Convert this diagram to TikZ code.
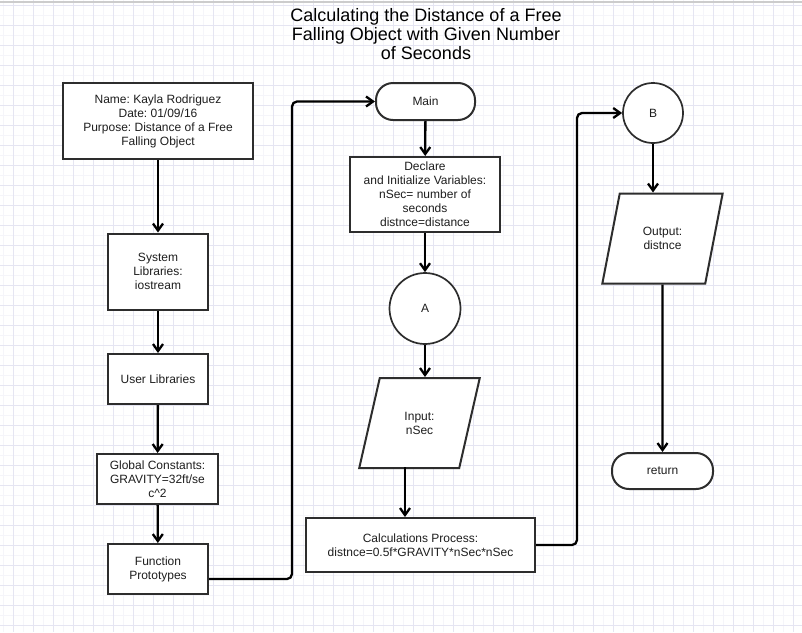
\documentclass[tikz,border=0pt]{standalone}
\usepackage{fontspec}
\setmainfont{Liberation Sans}
\frenchspacing
\usetikzlibrary{arrows.meta, shapes.geometric}
\definecolor{gridmajor}{RGB}{229,229,242}
\definecolor{gridminor}{RGB}{245,245,250}
\definecolor{edge}{RGB}{45,45,45}
\definecolor{label}{RGB}{30,30,30}

\tikzset{
	box/.style={draw=edge, line width=2pt, fill=white, align=center, text=label,
		font=\fontsize{12}{14}\selectfont, inner sep=2pt},
	term/.style={box, rounded corners=17pt},
	link/.style={box, circle, line width=1.7pt},
	io/.style={box, trapezium, trapezium left angle=71.57, trapezium right angle=108.43,
		trapezium stretches, minimum width=121pt, minimum height=90pt},
	flow/.style={line width=2.3pt, black, rounded corners=5pt,
		-{Straight Barb[length=7pt,width=10pt]}},
}

\begin{document}
\begin{tikzpicture}[x=1pt, y=-1pt]
		
		% Page and grid
		\useasboundingbox (0,0) rectangle (802,632);
		\fill[white] (0,0) rectangle (802,632);
		\foreach \x in {3.3,13.3,...,802} {
			\draw[gridminor, line width=0.6pt] (\x,0) -- (\x,632);
		}
		\foreach \y in {15,25,...,632} {
			\draw[gridminor, line width=0.6pt] (0,\y) -- (802,\y);
		}
		\foreach \x in {13.3,33.3,...,802} {
			\draw[gridmajor, line width=0.8pt] (\x,0) -- (\x,632);
		}
		\foreach \y in {5,25,...,632} {
			\draw[gridmajor, line width=0.8pt] (0,\y) -- (802,\y);
		}
		\draw[gray!40, line width=2pt] (0,1.5) -- (802,1.5);
		
		% Title
		\node[align=center, font=\fontsize{18}{19}\selectfont] (title) at (426,34)
			{Calculating the Distance of a Free\\Falling Object with Given Number\\of Seconds};
		
		% Left column
		\node[box, minimum width=190pt, minimum height=76pt] (info) at (158,121)
			{Name: Kayla Rodriguez\\Date: 01/09/16\\Purpose: Distance of a Free\\Falling Object};
		\node[box, minimum width=100pt, minimum height=76pt] (syslib) at (158,271.5)
			{System\\Libraries:\\iostream};
		\node[box, minimum width=100pt, minimum height=50pt] (usrlib) at (158,379) {User Libraries};
		\node[box, minimum width=121pt, minimum height=50pt] (consts) at (157.5,479)
			{Global Constants:\\GRAVITY=32ft/se\\c\textasciicircum 2};
		\node[box, minimum width=100pt, minimum height=50pt] (proto) at (158,569)
			{Function\\Prototypes};
		
		% Middle column
		\node[term, minimum width=99pt, minimum height=37pt] (main) at (425.5,101.5) {Main};
		\node[box, minimum width=150pt, minimum height=75pt] (decl) at (425,194.5)
			{Declare\\and Initialize Variables:\\nSec= number of\\seconds\\distnce=distance};
		\node[link, minimum size=71pt] (A) at (425,308.5) {A};
		\node[io] (input) at (419.5,423) {Input:\\nSec};
		\node[box, minimum width=229pt, minimum height=54pt] (calc) at (420.5,545)
			{Calculations Process:\\distnce=0.5f*GRAVITY*nSec*nSec};
		
		% Right column
		\node[link, minimum size=60pt] (B) at (653,113) {B};
		\node[io] (output) at (662.5,238.5) {Output:\\distnce};
		\node[term, minimum width=101pt, minimum height=36pt] (ret) at (662.5,471) {return};
		
		% Bend points of the long connectors
		\coordinate (bendA) at (292,0);
		\coordinate (bendB) at (577,0);
		
		% Connectors
		\draw[flow] (info) -- (syslib);
		\draw[flow] (syslib) -- (usrlib);
		\draw[flow] (usrlib) -- (consts);
		\draw[flow] (consts) -- (proto);
		\draw[flow] ([yshift=-10pt]proto.east) -- ([yshift=-10pt]proto.east -| bendA)
			-- (bendA |- main.west) -- (main.west);
		\draw[flow] (main) -- (decl);
		\draw[flow] (decl) -- (A);
		\draw[flow] (A.south) -- (A.south |- input.north);
		\draw[flow] ([xshift=-14.5pt,yshift=2pt]input.south) -- ([xshift=-14.5pt]input.south |- calc.north);
		\draw[flow] (calc.east) -- (calc.east -| bendB) -- (bendB |- B.west) -- (B.west);
		\draw[flow] (B.south) -- (B.south |- output.north);
		\draw[flow] (output) -- (ret);
		
	\end{tikzpicture}
\end{document}
